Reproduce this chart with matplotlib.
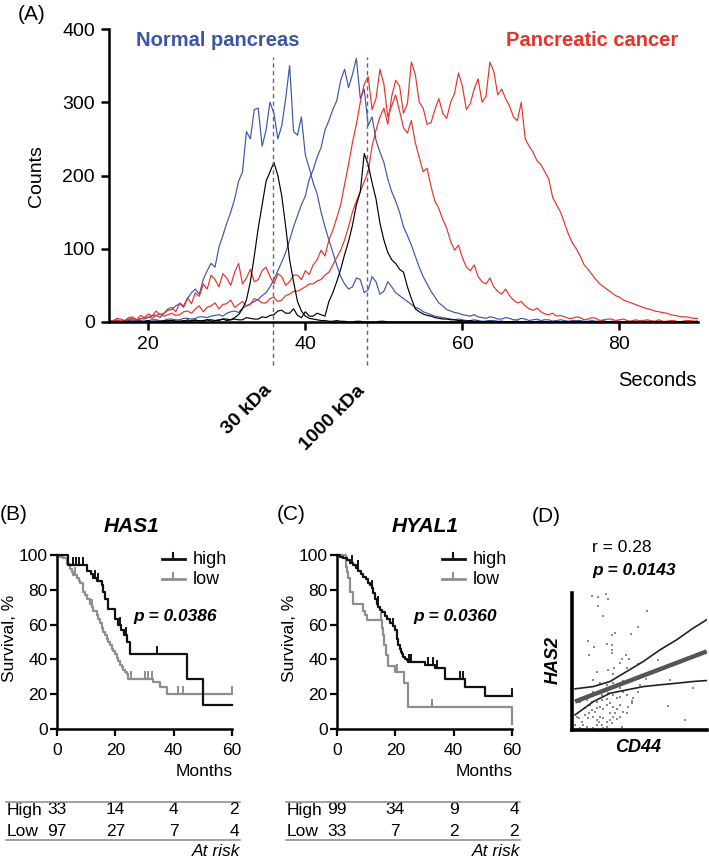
import numpy as np
import matplotlib.pyplot as plt
import matplotlib.transforms as mtransforms

plt.rcParams['font.family'] = ['Liberation Sans', 'DejaVu Sans']

W, H = 709, 860

# ---------------- panel A: elution profiles (counts, 15..90 s every 0.5 s)
seconds = np.arange(15, 90.25, 0.5)
normal_early = [0, 1, 2, 0, 1, 3, 3, 2, 5, 4,
                6, 9, 9, 6, 12, 16, 17, 22, 25, 20,
                32, 40, 45, 38, 58, 70, 80, 75, 102, 118,
                135, 150, 168, 192, 205, 260, 250, 290, 292, 240,
                262, 300, 285, 250, 268, 305, 350, 260, 255, 280,
                228, 210, 190, 175, 150, 130, 112, 95, 78, 62,
                52, 45, 48, 60, 58, 40, 44, 62, 55, 38,
                42, 55, 48, 40, 36, 32, 28, 24, 20, 18,
                14, 12, 10, 8, 7, 6, 5, 4, 3, 4,
                3, 2, 2, 3, 2, 1, 1, 2, 2, 1,
                1, 0, 0, 1, 1, 0, 1, 0, 0, 1,
                1, 0, 0, 1, 1, 0, 0, 0, 0, 1,
                1, 0, 0, 0, 0, 1, 1, 0, 0, 0,
                0, 0, 0, 1, 1, 0, 0, 0, 0, 0,
                0, 0, 0, 0, 0, 0, 0, 0, 0, 0,
                0]
normal_late = [0, 1, 1, 0, 0, 2, 1, 3, 2, 1,
               2, 3, 3, 2, 2, 4, 4, 3, 3, 5,
               5, 4, 5, 7, 7, 6, 8, 9, 10, 8,
               12, 14, 15, 13, 19, 22, 25, 28, 31, 36,
               40, 48, 58, 70, 82, 95, 112, 130, 145, 160,
               172, 195, 208, 225, 238, 262, 275, 290, 302, 330,
               345, 320, 338, 360, 305, 318, 268, 280, 248, 232,
               218, 195, 178, 165, 150, 130, 118, 105, 90, 75,
               62, 52, 42, 34, 26, 22, 17, 15, 13, 12,
               10, 9, 8, 10, 7, 6, 5, 7, 6, 4,
               4, 6, 5, 3, 3, 5, 4, 2, 3, 4,
               2, 3, 3, 1, 2, 3, 2, 1, 2, 2,
               2, 1, 1, 2, 1, 1, 2, 0, 1, 1,
               1, 0, 0, 1, 1, 0, 1, 1, 1, 0,
               1, 0, 0, 1, 1, 0, 0, 0, 0, 1,
               1]
cancer_early = [3, 1, 5, 4, 2, 6, 7, 3, 9, 6,
                11, 8, 15, 10, 12, 18, 20, 14, 26, 22,
                33, 25, 40, 35, 52, 45, 64, 58, 48, 66,
                60, 50, 68, 80, 52, 60, 72, 55, 58, 70,
                75, 62, 52, 66, 62, 50, 55, 64, 64, 58,
                70, 65, 78, 85, 98, 90, 112, 125, 142, 160,
                188, 215, 245, 270, 300, 325, 335, 290, 305, 345,
                325, 280, 295, 310, 288, 265, 258, 275, 245, 225,
                205, 210, 185, 165, 155, 140, 128, 110, 98, 105,
                88, 75, 70, 78, 62, 55, 52, 60, 48, 42,
                38, 45, 36, 30, 26, 28, 22, 18, 16, 19,
                14, 11, 10, 12, 8, 9, 7, 5, 5, 7,
                6, 3, 4, 6, 5, 2, 3, 4, 4, 2,
                3, 4, 2, 1, 3, 2, 2, 3, 2, 1,
                3, 1, 1, 2, 2, 0, 1, 2, 2, 1,
                1]
cancer_late = [1, 2, 3, 1, 2, 4, 5, 3, 4, 6,
               7, 5, 9, 11, 8, 10, 12, 9, 10, 14,
               15, 12, 18, 22, 14, 20, 22, 26, 18, 24,
               25, 30, 20, 24, 28, 22, 24, 32, 30, 26,
               26, 32, 34, 28, 30, 36, 38, 42, 42, 45,
               48, 52, 52, 56, 58, 64, 68, 78, 88, 98,
               112, 130, 150, 165, 178, 192, 205, 240, 262, 280,
               292, 270, 308, 330, 322, 285, 298, 355, 338, 300,
               292, 270, 272, 290, 305, 285, 278, 300, 312, 340,
               322, 290, 298, 318, 332, 300, 308, 355, 342, 310,
               318, 305, 295, 280, 275, 300, 250, 240, 232, 220,
               215, 205, 195, 170, 160, 150, 135, 120, 108, 100,
               90, 78, 72, 65, 58, 52, 48, 44, 40, 36,
               34, 30, 28, 26, 24, 22, 20, 18, 17, 15,
               14, 13, 12, 10, 9, 8, 7, 7, 6, 5,
               5]
std_30 = [0, 0, 1, 0, 0, 1, 1, 0, 0, 1,
          2, 0, 1, 1, 0, 2, 2, 1, 1, 0,
          3, 1, 2, 2, 1, 3, 3, 2, 2, 4,
          4, 3, 6, 10, 18, 30, 55, 90, 128, 160,
          192, 205, 218, 200, 172, 130, 85, 55, 28, 15,
          8, 5, 4, 3, 2, 2, 1, 1, 2, 1,
          1, 0, 0, 1, 1, 0, 0, 0, 0, 1,
          1, 0, 0, 0, 0, 0, 0, 0, 0, 0,
          0, 0, 0, 0, 0, 0, 0, 0, 0, 0,
          0, 0, 0, 0, 0, 0, 0, 0, 0, 0,
          0, 0, 0, 0, 0, 0, 0, 0, 0, 0,
          0, 0, 0, 0, 0, 0, 0, 0, 0, 0,
          0, 0, 0, 0, 0, 0, 0, 0, 0, 0,
          0, 0, 0, 0, 0, 0, 0, 0, 0, 0,
          0, 0, 0, 0, 0, 0, 0, 0, 0, 0,
          0]
std_1000 = [0, 0, 0, 1, 1, 0, 0, 1, 1, 0,
            0, 1, 1, 0, 2, 1, 2, 1, 1, 2,
            1, 2, 3, 1, 2, 3, 1, 2, 3, 4,
            2, 3, 4, 3, 3, 6, 5, 4, 4, 7,
            6, 9, 10, 15, 16, 12, 12, 18, 9, 6,
            14, 8, 8, 12, 10, 8, 28, 40, 55, 72,
            92, 110, 132, 160, 178, 230, 215, 190, 168, 135,
            112, 95, 85, 80, 72, 68, 48, 32, 18, 14,
            11, 9, 8, 6, 5, 4, 4, 3, 3, 2,
            2, 1, 2, 1, 1, 0, 1, 1, 0, 0,
            1, 0, 0, 0, 1, 0, 0, 0, 0, 0,
            0, 0, 0, 0, 0, 0, 0, 0, 0, 0,
            0, 0, 0, 0, 0, 0, 0, 0, 0, 0,
            0, 0, 0, 0, 0, 0, 0, 0, 0, 0,
            0, 0, 0, 0, 0, 0, 0, 0, 0, 0,
            0]
std_names = ['30 kDa', '1000 kDa']
std_times = [35.9, 47.8]

# ---------------- panels B, C: Kaplan-Meier (months, survival %)
has1_high_t = [0, 3.8, 10.1, 11.5, 12.4, 13.5, 15.3, 15.8, 16.4, 17.5,
               20.0, 21.0, 22.0, 23.0, 24.0, 25.0, 44.5, 50.2]
has1_high_s = [100, 94, 91, 89, 87, 85, 83, 79, 75, 69,
               63, 60, 57, 54, 50, 43, 29, 14]
has1_high_cens = [5.5, 6.5, 7.5, 8.7, 13.0, 14.0, 21.5, 23.5, 34.4]
has1_low_t = [0, 1.0, 2.1, 3.2, 4.4, 5.0, 5.5, 6.7, 7.3, 7.8, 8.9, 9.5,
              10.1, 11.2, 11.8, 12.4, 13.5, 14.1, 14.7, 15.3, 15.8, 16.4,
              17.0, 17.6, 18.1, 18.7, 19.3, 19.8, 20.4, 21.0, 21.6, 22.1,
              22.7, 23.3, 23.9, 24.4, 33.0, 35.3, 37.6]
has1_low_s = [100, 99, 98, 95, 92, 90, 88.5, 86.6, 85, 83.7, 79, 77,
              75, 72, 70, 68, 65.5, 63, 61, 58, 56, 54,
              52, 50, 48, 46, 44.6, 43, 40.8, 39, 37, 35.5,
              34, 32.5, 31.4, 29, 27, 24, 20]
has1_low_cens = [6.0, 12.0, 25.5, 30.2, 31.3, 32.5, 41.6, 43.3, 60]

hyal1_high_t = [0, 0.9, 2.0, 3.2, 4.3, 5.5, 6.4, 7.2, 8.0, 8.9, 9.8, 10.7,
                11.3, 11.8, 12.4, 13.0, 13.5, 14.1, 14.7, 15.5, 16.4, 17.2,
                18.1, 19.0, 19.8, 20.4, 21.0, 21.4, 21.8, 22.2, 22.7, 23.3,
                23.9, 24.4, 30.2, 33.5, 37.0, 43.9, 50.8]
hyal1_high_s = [100, 99, 98, 97, 95.5, 94, 92.5, 91, 89, 87.5, 86, 84,
                82.5, 81, 78, 75, 72, 70, 68.6, 67, 65, 63,
                61, 59, 57, 52, 48, 46, 44.4, 43, 41.6, 40.5,
                39.5, 38.5, 37, 35, 29, 24, 19]
hyal1_high_cens = [5.0, 7.0, 12.0, 14.0, 19.0, 24.6, 25.2, 31.3, 33.0,
                   34.2, 42.2, 43.3, 60]
hyal1_low_t = [0, 3.0, 3.4, 3.8, 4.4, 5.3, 8.9, 9.5, 10.3, 15.3, 15.8,
               16.2, 16.8, 17.4, 19.8, 22.8, 24.4, 60]
hyal1_low_s = [100, 93, 90, 86.6, 79, 72, 68, 65.5, 62.6, 57.9, 54,
               48.3, 42.5, 36, 33, 26.2, 12.4, 3]
hyal1_low_cens = [15.0, 20.5, 32.5]

risk_months = [0, 20, 40, 60]
has1_risk_high = [33, 14, 4, 2]
has1_risk_low = [97, 27, 7, 4]
hyal1_risk_high = [99, 34, 9, 4]
hyal1_risk_low = [33, 7, 2, 2]

# ---------------- panel D: CD44 vs HAS2 (arbitrary units)
cd44 = [15.5, 20, 25.8, 27.5, 19.5, 23.8, 56.8, 50, 32.5, 30, 44.3, 12.5,
        16.8, 26.3, 30, 30, 30, 13.3, 37.5, 40.8, 43.3, 36.3, 18.8, 27.5,
        31.3, 31.8, 41.3, 50, 65, 16.3, 21.3, 26.3, 28.8, 31.3, 38.8, 50,
        55.8, 73.8, 91.3, 72, 85, 6.3, 8.8, 11.3, 13.8, 16.3, 20, 22.5,
        25, 27.5, 31.3, 33.8, 36.3, 38.8, 41.3, 45, 46.3, 50, 13.8, 15,
        17.5, 18.8, 21.3, 23.8, 26.3, 28.8, 31.3, 33.8, 36.3, 38.8, 41.3,
        16.3, 18.8, 21.3, 23.8, 26.3, 28.8, 31.3, 33.8, 36.3, 10, 12.5,
        7.5, 8.8, 11.3, 18.8, 22.5, 26.3, 30, 37.5, 3.8, 2.5, 6.3, 16.3,
        23.8, 9.3, 20.8, 15, 10, 32.5, 28.8, 42.5, 45, 51.3, 36.3, 26.3,
        22.5, 18.8, 5.8, 13.3]
has2 = [100.5, 99.3, 101.5, 98.3, 92.5, 85, 89.3, 76.8, 72.5, 71.3, 71.8,
        66.3, 61.8, 64.3, 63.8, 60, 57.5, 56.3, 53.3, 55.8, 53.3, 50, 43.3,
        45, 41.8, 46.3, 46.3, 49.3, 52.5, 37.5, 35, 33.8, 32.5, 35, 36.3,
        38.3, 38.3, 37.5, 31.3, 18.3, 7.5, 21.3, 23.8, 22.5, 26.3, 28.8,
        27.5, 26.3, 29.3, 27.5, 26.3, 23.8, 25, 28.8, 26.3, 21.8, 23.8,
        28.8, 18.8, 15, 13.8, 16.3, 17.5, 15.8, 18.8, 20, 17.5, 15.8, 18.8,
        13.8, 12.5, 10, 7.5, 10, 8.8, 6.3, 7.5, 10, 8.3, 10, 11.3, 8.8,
        6.3, 3.8, 2.5, 3.8, 3.8, 2.5, 5, 2.5, 10, 3.8, 1.8, 1.3, 1.3, 0.5,
        6.3, 21.3, 16.3, 12.5, 12.5, 17.5, 20, 33.3, 31.3, 23.3, 22.5,
        21.3, 9.3, 12.5]
fit_x = [2.5, 101.3]
fit_y = [21.3, 58.8]
band_x = [2.5, 16.3, 28.8, 41.3, 53.8, 66.3, 78.8, 91.3, 101.3]
band_upper = [30.8, 32.5, 36.3, 43.8, 51.3, 60, 67.5, 76.3, 82.5]
band_lower = [11.3, 21.3, 27.5, 30, 32.5, 33.8, 35, 36.3, 37]

blue = '#3b56a5'
red = '#e8312a'
grey = '#8e8e8e'


def fx(x):
    return x / W


def fy(y):
    return 1 - y / H


def box(l, t, r, b):
    return [fx(l), fy(b), (r - l) / W, (b - t) / H]


fig = plt.figure(figsize=(W / 100, H / 100), dpi=100)

# ================= panel A
axA = fig.add_axes(box(109, 29, 698, 322))
for y, c in [(normal_early, blue), (normal_late, blue),
             (cancer_early, red), (cancer_late, red),
             (std_30, 'black'), (std_1000, 'black')]:
    axA.plot(seconds, y, color=c, lw=0.85)
axA.set_xlim(15, 90)
axA.set_ylim(0, 400)
axA.set_xticks([20, 40, 60, 80])
axA.set_yticks([0, 100, 200, 300, 400])
for s in ['top', 'right']:
    axA.spines[s].set_visible(False)
for s in ['left', 'bottom']:
    axA.spines[s].set_linewidth(1.8)
axA.tick_params(labelsize=14, length=6, width=1.8, pad=4)
for t, name in zip(std_times, std_names):
    axA.plot([t, t], [-59, 362], ls=(0, (3, 2.5)), color='#666666', lw=1,
             clip_on=False)
    axA.annotate(name, xy=(t, 0), xytext=(-4, -66), textcoords='offset pixels',
                 rotation=45, rotation_mode='anchor', ha='right', va='center',
                 fontweight='bold', size=14)

fig.text(fx(18), fy(14), '(A)', size=15, va='center')
fig.text(fx(37), fy(176), 'Counts', size=14, rotation=90, ha='center', va='center')
fig.text(fx(136), fy(40), 'Normal pancreas', size=14.5, fontweight='bold',
         color=blue, va='center')
fig.text(fx(678), fy(40), 'Pancreatic cancer', size=14.5, fontweight='bold',
         color=red, va='center', ha='right')
fig.text(fx(697), fy(380), 'Seconds', size=14.5, ha='right', va='center')


# ================= panels B, C
def km_line(ax, t, s, cens, color):
    tt, ss = list(t), list(s)
    if tt[-1] < 60:
        tt.append(60)
        ss.append(ss[-1])
    ax.step(tt, ss, where='post', color=color, lw=1.6, clip_on=False)
    idx = np.searchsorted(t, cens, side='right') - 1
    for c, i in zip(cens, idx):
        ax.plot([c, c], [s[i], s[i] + 4], color=color, lw=1.4, clip_on=False)


def km_panel(left, letter, gene, pval, high, low, risk_hi, risk_lo):
    ax = fig.add_axes(box(left, 555, left + 174.4, 729))
    km_line(ax, *low, grey)
    km_line(ax, *high, '#111111')
    ax.set_xlim(0, 60)
    ax.set_ylim(0, 100)
    ax.set_xticks(risk_months)
    ax.set_yticks([0, 20, 40, 60, 80, 100])
    for s in ['top', 'right']:
        ax.spines[s].set_visible(False)
    for s in ['left', 'bottom']:
        ax.spines[s].set_linewidth(1.8)
    ax.tick_params(labelsize=12.5, length=5, width=1.6)
    ax.tick_params(axis='x', pad=5)
    ax.tick_params(axis='y', pad=2)
    # legend with censor-style marks
    for yy, c, lab in [(0.977, '#111111', 'high'), (0.862, grey, 'low')]:
        ax.plot([0.60, 0.732], [yy, yy], color=c, lw=2, transform=ax.transAxes,
                clip_on=False)
        ax.plot([0.666, 0.666], [yy, yy + 0.035], color=c, lw=1.5,
                transform=ax.transAxes, clip_on=False)
        ax.text(0.778, yy, lab, transform=ax.transAxes, size=13, va='center')
    ax.text(0.677, 0.644, pval, transform=ax.transAxes, size=12.5,
            fontweight='bold', style='italic', ha='center', va='center')

    off = left - 57.3
    fig.text(fx(0 + off * 0.99), fy(515), letter, size=15, va='center')
    fig.text(fx(132 + off * 1.046), fy(527), gene, size=15, fontweight='bold',
             style='italic', ha='center', va='center')
    fig.text(fx(10 + off), fy(638), 'Survival, %', size=12.5, rotation=90,
             ha='center', va='center')
    fig.text(fx(233 + off), fy(772), 'Months', size=12.5, ha='right', va='center')

    # numbers at risk
    l, r = 6 + off, 240 + off
    for yy in [802, 840]:
        fig.add_artist(plt.Line2D([fx(l), fx(r)], [fy(yy), fy(yy)],
                                  color='#888888', lw=1.1))
    trans = mtransforms.blended_transform_factory(ax.transData, fig.transFigure)
    for yy, lab, vals in [(810, 'High', risk_hi), (831, 'Low', risk_lo)]:
        fig.text(fx(l + 1), fy(yy), lab, size=12.5, va='center')
        for m, v in zip(risk_months[:-1], vals[:-1]):
            ax.text(m, fy(yy), str(v), transform=trans, size=12.5,
                    ha='center', va='center')
        fig.text(fx(r - 1), fy(yy), str(vals[-1]), size=12.5, ha='right',
                 va='center')
    fig.text(fx(r), fy(851), 'At risk', size=12.5, style='italic', ha='right',
             va='center')


km_panel(57.3, '(B)', 'HAS1', 'p = 0.0386',
         (has1_high_t, has1_high_s, has1_high_cens),
         (has1_low_t, has1_low_s, has1_low_cens),
         has1_risk_high, has1_risk_low)
km_panel(337.3, '(C)', 'HYAL1', 'p = 0.0360',
         (hyal1_high_t, hyal1_high_s, hyal1_high_cens),
         (hyal1_low_t, hyal1_low_s, hyal1_low_cens),
         hyal1_risk_high, hyal1_risk_low)

# ================= panel D
axD = fig.add_axes(box(571.7, 593, 706.7, 730))
axD.scatter(cd44, has2, s=4, marker='s', color='#8a8a8a', linewidths=0)
axD.plot(fit_x, fit_y, color='#555555', lw=3.2, solid_capstyle='butt')
axD.plot(band_x, band_upper, color='#222222', lw=1.2)
axD.plot(band_x, band_lower, color='#222222', lw=1.2)
axD.set_xlim(0, 101.3)
axD.set_ylim(0, 102.5)
axD.set_xticks([])
axD.set_yticks([])
for s in ['top', 'right']:
    axD.spines[s].set_visible(False)
for s in ['left', 'bottom']:
    axD.spines[s].set_linewidth(2.6)

fig.text(fx(532), fy(517), '(D)', size=15, va='center')
fig.text(fx(592), fy(548), 'r = 0.28', size=12.5, va='center')
fig.text(fx(592), fy(570), 'p = 0.0143', size=12.5, fontweight='bold',
         style='italic', va='center')
fig.text(fx(553), fy(660), 'HAS2', size=13, fontweight='bold', style='italic',
         rotation=90, ha='center', va='center')
fig.text(fx(638), fy(748), 'CD44', size=13, fontweight='bold', style='italic',
         ha='center', va='center')

fig.savefig('out.png', dpi=100)
